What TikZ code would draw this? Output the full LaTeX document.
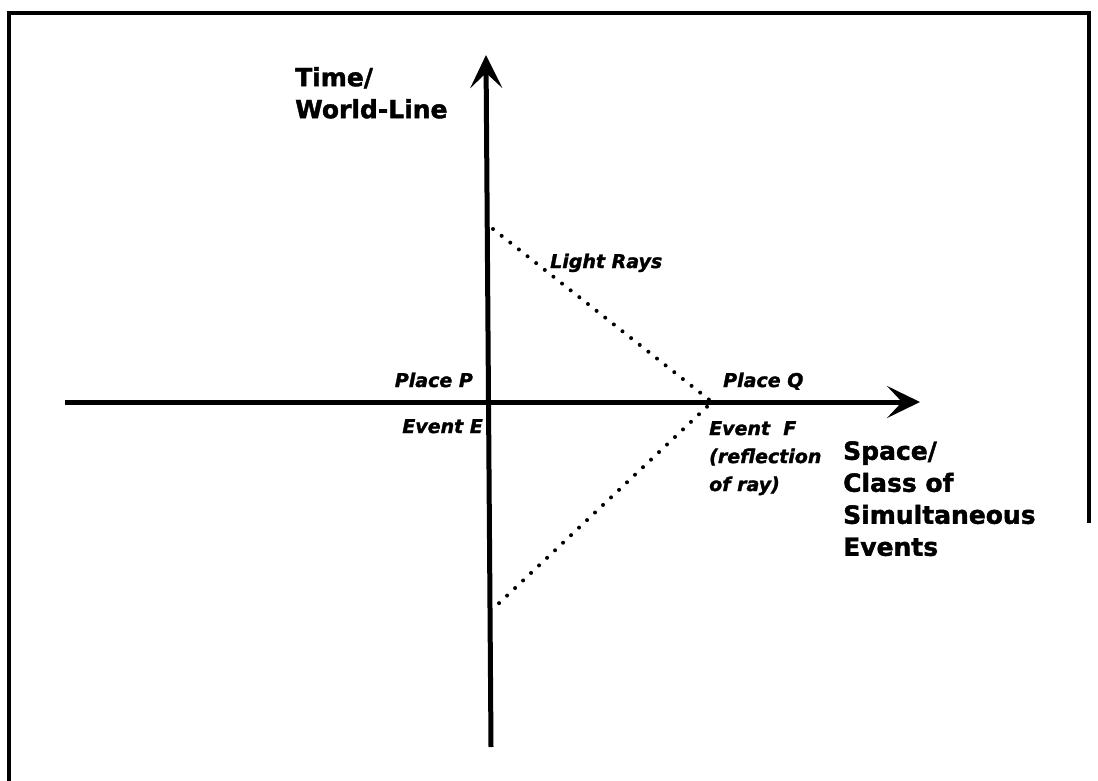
\documentclass[tikz,border=0pt]{standalone}
\usepackage{fontspec}
\setmainfont{DejaVu Sans}[BoldFeatures={FakeBold=1.6},
                          BoldItalicFeatures={FakeBold=1.6}]
\usetikzlibrary{arrows.meta,positioning}
\tikzset{
  axis/.style ={draw=black,line width=5pt,
                -{Stealth[length=33pt,width=32pt,inset=15pt]}},
  ray/.style  ={draw=black,line width=4pt,line cap=round,
                dash pattern=on 0pt off 11pt},
  frm/.style  ={draw=black,line width=4pt},
  big/.style  ={font=\fontsize{25}{32}\selectfont\bfseries,align=left,inner sep=0pt},
  lbl/.style  ={font=\fontsize{19}{28}\selectfont\bfseries\itshape,align=left,inner sep=0pt},
}

\begin{document}
\begin{tikzpicture}[x=1pt,y=-1pt]
\useasboundingbox (0,0) rectangle (1098,781);

% --- frame, open at the lower right -------------------------------------
\draw[frm] (9,781) -- (9,13) -- (1089,13) -- (1089,523);

% --- axes ----------------------------------------------------------------
\coordinate (tlo) at (491,747);
\coordinate (thi) at (486,55);
\coordinate (slo) at (65,402);
\coordinate (shi) at (920,402);
\draw[axis] (tlo) -- (thi);
\draw[axis] (slo) -- (shi);

% --- light rays, reflected at F -------------------------------------------
\coordinate (rin)  at (493,229);
\coordinate (refl) at (712,402);
\coordinate (rout) at (495,607);
\draw[ray] (rin) -- (refl) -- (rout);

% --- labels ---------------------------------------------------------------
\node[big,anchor=north west] (tlab) at (295,67) {Time/\\World-Line};
\node[big,anchor=north west] (slab) at (843,441)
  {Space/\\Class of\\Simultaneous\\Events};
\node[lbl,anchor=base west] (rays) at (550,268) {Light Rays};
\node[lbl,anchor=base east] (pp)   at (473,387) {Place P};
\node[lbl,anchor=base east] (ee)   at (483,433) {Event E};
\node[lbl,anchor=base west] (pq)   at (723,387) {Place Q};
\node[lbl,anchor=north west] (ef)  at (709,421)
  {Event~~F\\(reflection\\of ray)};

\end{tikzpicture}
\end{document}
